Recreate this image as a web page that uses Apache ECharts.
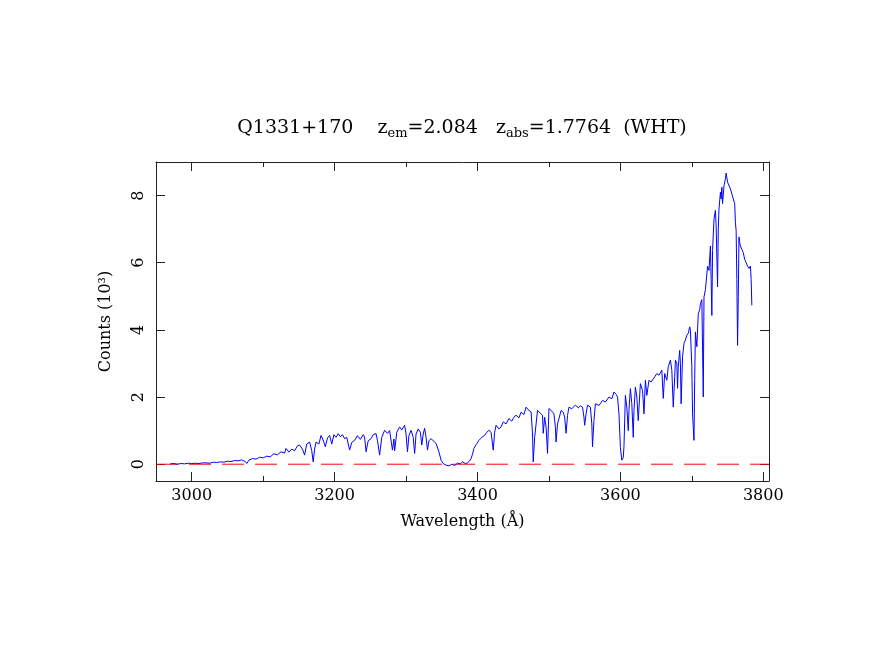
<!DOCTYPE html>
<html><head><meta charset="utf-8">
<script src="https://cdn.jsdelivr.net/npm/echarts@6/dist/echarts.min.js"></script>
<style>html,body{margin:0;padding:0;background:#fff}#c{width:875px;height:654px}</style>
</head><body><div id="c"></div>
<script>
const xMajorTicks = [3000, 3200, 3400, 3600, 3800];
const xMinorTicks = [3100, 3300, 3500, 3700];
const yTicks = [0, 2, 4, 6, 8];
const titleMain = 'Q1331+170';
const zEm = '2.084';
const zAbs = '1.7764';
const xName = 'Wavelength (Å)';
const yName = 'Counts (10³)';
const zeroLevel = 0;
const wavelength = [2970,2975,2980,2985,2990,2995,3000,3005,3010,3015,3020,3025,3030,3035,3040,3045,3050,3055,3060,3065,3070,3075,3077,3080,3085,3090,3095,3100,3105,3110,3115,3120,3125,3130,3132,3136,3140,3144,3148,3151,3155,3158,3161,3165,3168,3170,3172,3174,3178,3181,3184,3187,3190,3193,3196,3199,3202,3205,3208,3211,3214,3217,3221,3224,3228,3232,3236,3240,3242,3244,3247,3251,3254,3258,3260,3263,3266,3270,3274,3277,3281,3283,3284,3287,3291,3294,3298,3300,3302,3304,3307,3310,3312,3314,3317,3320,3322,3324,3326,3328,3330,3332,3335,3338,3342,3346,3349,3352,3356,3360,3364,3368,3372,3376,3379,3383,3386,3389,3391,3393,3395,3398,3402,3406,3410,3413,3416,3419,3422,3424,3426,3430,3433,3436,3440,3444,3448,3451,3454,3458,3461,3465,3468,3471,3475,3477,3478,3480,3484,3488,3491,3492,3494,3496,3498,3500,3504,3507,3509,3510,3512,3517,3520,3522,3524,3526,3528,3532,3537,3541,3544,3547,3549,3550,3552,3554,3558,3560,3561,3563,3565,3570,3575,3579,3584,3588,3591,3594,3596,3598,3600,3602,3604,3605,3607,3609,3611,3612,3614,3616,3618,3619,3621,3623,3625,3626,3628,3631,3633,3635,3637,3640,3643,3645,3648,3651,3654,3658,3660,3662,3665,3667,3670,3672,3674,3676,3677,3679,3680,3681,3683,3684,3685,3687,3689,3691,3693,3695,3697,3698,3700,3701,3703,3704,3705,3707,3709,3711,3712,3714,3716,3717,3719,3720,3722,3724,3726,3727,3728,3729,3731,3733,3734,3736,3737,3738,3740,3741,3742,3743,3745,3747,3748,3750,3752,3754,3756,3758,3760,3761,3762,3763,3764,3765,3766,3767,3768,3770,3772,3774,3776,3778,3780,3782,3783,3784];
const counts = [0.01,0.02,0.00,0.02,0.01,0.03,0.02,0.03,0.02,0.04,0.04,0.03,0.06,0.05,0.07,0.06,0.09,0.08,0.11,0.10,0.13,0.08,0.02,0.12,0.17,0.15,0.21,0.19,0.24,0.22,0.31,0.28,0.37,0.33,0.47,0.36,0.45,0.40,0.55,0.57,0.45,0.27,0.60,0.66,0.40,0.07,0.45,0.66,0.60,0.86,0.72,0.52,0.78,0.86,0.60,0.88,0.80,0.91,0.82,0.88,0.76,0.80,0.42,0.65,0.71,0.85,0.74,0.88,0.81,0.37,0.70,0.76,0.88,0.91,0.70,0.27,0.80,1.01,0.92,1.00,0.42,0.75,0.40,0.95,1.11,1.02,1.16,0.90,0.37,0.85,1.01,0.80,0.32,0.90,1.05,0.95,0.57,0.90,1.07,0.80,0.42,0.70,0.76,0.70,0.62,0.37,0.12,0.02,-0.03,-0.05,0.00,-0.04,0.03,0.01,0.07,0.02,0.04,0.10,0.17,0.30,0.47,0.58,0.71,0.80,0.86,0.95,1.01,0.95,0.42,0.95,1.16,1.05,1.11,1.26,1.20,1.36,1.28,1.40,1.46,1.38,1.55,1.48,1.70,1.62,1.56,0.90,0.07,0.80,1.60,1.52,1.46,0.92,1.40,1.10,0.32,1.66,1.58,1.50,1.10,0.66,1.20,1.60,1.55,1.40,0.92,1.45,1.70,1.65,1.76,1.68,1.74,1.70,1.40,1.16,1.50,1.76,1.70,1.20,0.52,1.30,1.80,1.75,1.90,1.85,2.00,1.95,2.15,2.08,2.00,1.50,0.50,0.12,0.20,0.52,2.05,1.70,1.00,1.60,2.25,1.80,0.80,1.60,2.30,2.00,1.30,1.35,2.40,2.20,1.50,2.50,2.05,2.50,2.45,2.50,2.60,2.70,2.65,2.80,1.96,2.70,2.50,2.90,3.10,2.80,1.70,2.60,3.10,3.00,2.26,2.90,3.39,3.00,1.80,3.20,3.60,3.70,3.84,3.90,4.09,3.99,2.90,1.50,0.71,2.50,3.94,3.50,4.48,4.60,4.78,4.90,2.00,4.98,5.20,5.43,5.90,5.77,6.50,5.50,4.43,6.37,7.30,7.56,7.10,5.28,7.00,7.60,8.10,7.90,8.25,7.76,8.30,8.50,8.67,8.40,8.40,8.20,8.15,7.90,7.76,7.20,6.96,5.50,3.54,5.00,6.77,6.60,6.50,6.40,6.30,6.10,6.00,5.90,5.83,5.90,5.50,4.73];

const FONT = 'DejaVu Serif';
const X0 = 2950, X1 = 3808, Y0 = -0.5, Y1 = 9;
const frame = {show: true, onZero: false, lineStyle: {color: '#222', width: 1}};
function xAx(pos, ticks, len, labels, line) {
  return {type: 'value', position: pos, min: X0, max: X1, splitLine: {show: false},
    axisLine: line ? frame : {show: false, onZero: false},
    axisTick: {show: true, inside: true, length: len, customValues: ticks, lineStyle: {color: '#222', width: 1}},
    axisLabel: labels ? {show: true, customValues: xMajorTicks, formatter: v => String(v), color: '#000', fontFamily: FONT, fontSize: 16, margin: 7} : {show: false}
  };
}
const chart = echarts.init(document.getElementById('c'), null, {renderer: 'canvas'});
chart.setOption({
  animation: false,
  grid: {left: 156, right: 106, top: 162, bottom: 173, containLabel: false, outerBoundsMode: 'none'},
  graphic: [{type: 'text', x: 462, y: 128, style: {
    text: titleMain + '    z{s|em}=' + zEm + '   z{s|abs}=' + zAbs + '  (WHT)',
    fill: '#000', font: '19px "' + FONT + '"', align: 'center', verticalAlign: 'middle',
    rich: {s: {fontSize: 13, fontFamily: FONT, verticalAlign: 'bottom', padding: [12, 0, 0, 0], fill: '#000'}}
  }}],
  xAxis: [
    Object.assign(xAx('bottom', xMajorTicks, 9, true, true), {name: xName, nameLocation: 'middle', nameGap: 33, nameTextStyle: {fontFamily: FONT, fontSize: 16, color: '#000'}}),
    xAx('bottom', xMinorTicks, 5, false, false),
    xAx('top', xMajorTicks, 9, false, true),
    xAx('top', xMinorTicks, 5, false, false)
  ],
  yAxis: [
    {type: 'value', position: 'left', min: Y0, max: Y1, splitLine: {show: false}, axisLine: frame,
     axisTick: {show: true, inside: true, length: 9, customValues: yTicks, lineStyle: {color: '#222'}},
     axisLabel: {show: true, customValues: yTicks, rotate: 90, color: '#000', fontFamily: FONT, fontSize: 16, margin: 9},
     name: yName, nameLocation: 'middle', nameGap: 42, nameTextStyle: {fontFamily: FONT, fontSize: 16, color: '#000'}},
    {type: 'value', position: 'right', min: Y0, max: Y1, splitLine: {show: false}, axisLine: frame,
     axisTick: {show: true, inside: true, length: 9, customValues: yTicks, lineStyle: {color: '#222'}},
     axisLabel: {show: false}}
  ],
  series: [
    {type: 'line', xAxisIndex: 0, yAxisIndex: 0, showSymbol: false, symbol: 'none', silent: true,
     data: [[X0, zeroLevel], [X1, zeroLevel]],
     lineStyle: {color: '#ff0000', width: 1, type: [22, 11]}, z: 2},
    {type: 'line', xAxisIndex: 0, yAxisIndex: 0, showSymbol: false, symbol: 'none',
     data: wavelength.map((w, i) => [w, counts[i]]),
     lineStyle: {color: '#0000ff', width: 1}, z: 3}
  ]
});
</script></body></html>
